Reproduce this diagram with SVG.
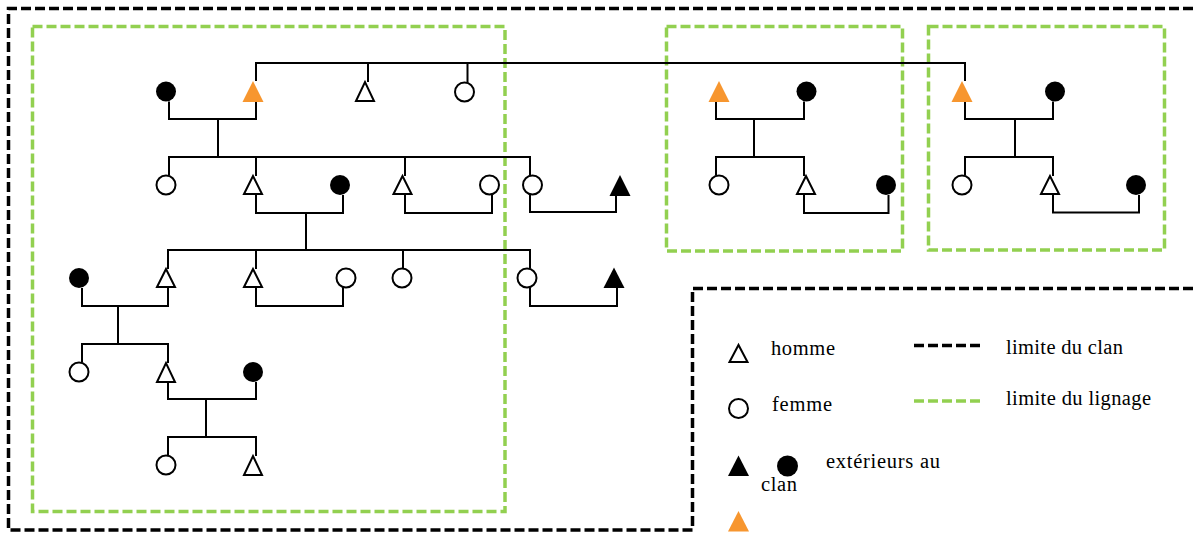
<svg xmlns="http://www.w3.org/2000/svg" width="1193" height="534" viewBox="0 0 1193 534">
<style>
.ln{fill:none;stroke:#000;stroke-width:2}
.ho{fill:#fff;stroke:#000;stroke-width:2}
.fi{fill:#000;stroke:none}
.or{fill:#F7962F;stroke:none}
.clan{fill:none;stroke:#000;stroke-width:3.5;stroke-dasharray:10 4}
.lig{fill:none;stroke:#92D050;stroke-width:3.5;stroke-dasharray:10 4}
.t{font-family:"Liberation Serif","Times New Roman",serif;font-size:20.5px;fill:#000}
</style>
<rect width="1193" height="534" fill="#fff"/>
<g id="boundaries">
<path class="clan" d="M1193,8.5 H8.5 V530 H692.5 V288.5 H1193"/>
<rect class="lig" x="32.5" y="26.5" width="472.5" height="485"/>
<rect class="lig" x="666.5" y="26.5" width="236" height="224.5"/>
<rect class="lig" x="928.5" y="26.5" width="236" height="223.5"/>
</g>
<g id="connectors" class="ln">
<path d="M256,81 V63 H965 V81 M368,63 V82 M467.5,63 V82.5"/>
<path d="M169,101.5 V119 H256 V102 M218,119 V157 M169,175.5 V157 H530 V175.5 M256,157 V176 M405,157 V176"/>
<path d="M256,194 V213 H343 V195 M306,213 V250 M405,194 V213 H492 V194.5 M530,194.5 V212 H616 V196"/>
<path d="M168,269 V250 H530 V268.5 M256,250 V269 M403,250 V268.5"/>
<path d="M82,288 V306 H168 V287 M118,306 V344 M256,287 V306 H343 V287.5 M530,287.5 V306 H617 V288"/>
<path d="M82,362.5 V344 H168 V363 M168,382 V399 H256 V382 M206,399 V437 M168,455.5 V437 H256 V456"/>
<path d="M716,102 V119 H804 V101.5 M754,119 V157 M716,175.5 V157 H804 V176 M804,194 V213 H888.5 V195"/>
<path d="M965,102 V119 H1053 V101.5 M1015,119 V157 M965,175.5 V157 H1053 V176 M1053,194 V212.5 H1139 V195"/>
</g>
<g id="n1"><circle class="fi" cx="166" cy="91.5" r="10"/></g>
<g id="n2"><polygon class="or" points="242.5,102 253,81 263.5,102"/></g>
<g id="n3"><polygon class="ho" points="356,101 365,82 374,101"/></g>
<g id="n4"><circle class="ho" cx="464.5" cy="92" r="9.5"/></g>
<g id="n5"><circle class="ho" cx="166" cy="185" r="9.5"/></g>
<g id="n6"><polygon class="ho" points="244,194 253,176 262,194"/></g>
<g id="n7"><circle class="fi" cx="340" cy="185" r="10"/></g>
<g id="n8"><polygon class="ho" points="393.5,194 402.5,176 411.5,194"/></g>
<g id="n9"><circle class="ho" cx="489.5" cy="185" r="9.5"/></g>
<g id="n10"><circle class="ho" cx="532.5" cy="185" r="9.5"/></g>
<g id="n11"><polygon class="fi" points="609.5,196 620,175 630.5,196"/></g>
<g id="n12"><circle class="fi" cx="79" cy="278" r="10"/></g>
<g id="n13"><polygon class="ho" points="157,287 166,269 175,287"/></g>
<g id="n14"><polygon class="ho" points="244,287 253,269 262,287"/></g>
<g id="n15"><circle class="ho" cx="346" cy="278" r="9.5"/></g>
<g id="n16"><circle class="ho" cx="402" cy="278" r="9.5"/></g>
<g id="n17"><circle class="ho" cx="527" cy="278" r="9.5"/></g>
<g id="n18"><polygon class="fi" points="603.5,288 614,267.5 624.5,288"/></g>
<g id="n19"><circle class="ho" cx="79" cy="372" r="9.5"/></g>
<g id="n20"><polygon class="ho" points="157,382 166,363 175,382"/></g>
<g id="n21"><circle class="fi" cx="253" cy="372" r="10"/></g>
<g id="n22"><circle class="ho" cx="166" cy="465" r="9.5"/></g>
<g id="n23"><polygon class="ho" points="244,475 253,456 262,475"/></g>
<g id="n24"><polygon class="or" points="708.5,102 719,81 729.5,102"/></g>
<g id="n25"><circle class="fi" cx="806.5" cy="91.5" r="10"/></g>
<g id="n26"><circle class="ho" cx="719" cy="185" r="9.5"/></g>
<g id="n27"><polygon class="ho" points="797,194 806,176 815,194"/></g>
<g id="n28"><circle class="fi" cx="886" cy="185" r="10"/></g>
<g id="n29"><polygon class="or" points="951.5,102 962,81 972.5,102"/></g>
<g id="n30"><circle class="fi" cx="1055" cy="91.5" r="10"/></g>
<g id="n31"><circle class="ho" cx="962" cy="185" r="9.5"/></g>
<g id="n32"><polygon class="ho" points="1041,194 1050,176 1059,194"/></g>
<g id="n33"><circle class="fi" cx="1136" cy="185" r="10"/></g>
<g id="legend">
<polygon class="ho" points="729.5,362 738.5,345 747.5,362"/>
<text class="t" x="771" y="355" textLength="64" lengthAdjust="spacing">homme</text>
<circle class="ho" cx="738.5" cy="408.5" r="9.5"/>
<text class="t" x="772" y="411" textLength="60" lengthAdjust="spacing">femme</text>
<polygon class="fi" points="728,476 738.5,455.5 749,476"/>
<circle class="fi" cx="787.5" cy="466" r="10.5"/>
<text class="t" x="826" y="468" textLength="114" lengthAdjust="spacing">extérieurs au</text>
<text class="t" x="761" y="491" textLength="36" lengthAdjust="spacing">clan</text>
<polygon class="or" points="728,531.5 738.5,511 749,531.5"/>
<line class="clan" x1="914" y1="345.5" x2="980" y2="345.5"/>
<text class="t" x="1006" y="353.5" textLength="117" lengthAdjust="spacing">limite du clan</text>
<line class="lig" x1="914" y1="401" x2="980" y2="401"/>
<text class="t" x="1006" y="405" textLength="145" lengthAdjust="spacing">limite du lignage</text>
</g>
</svg>
